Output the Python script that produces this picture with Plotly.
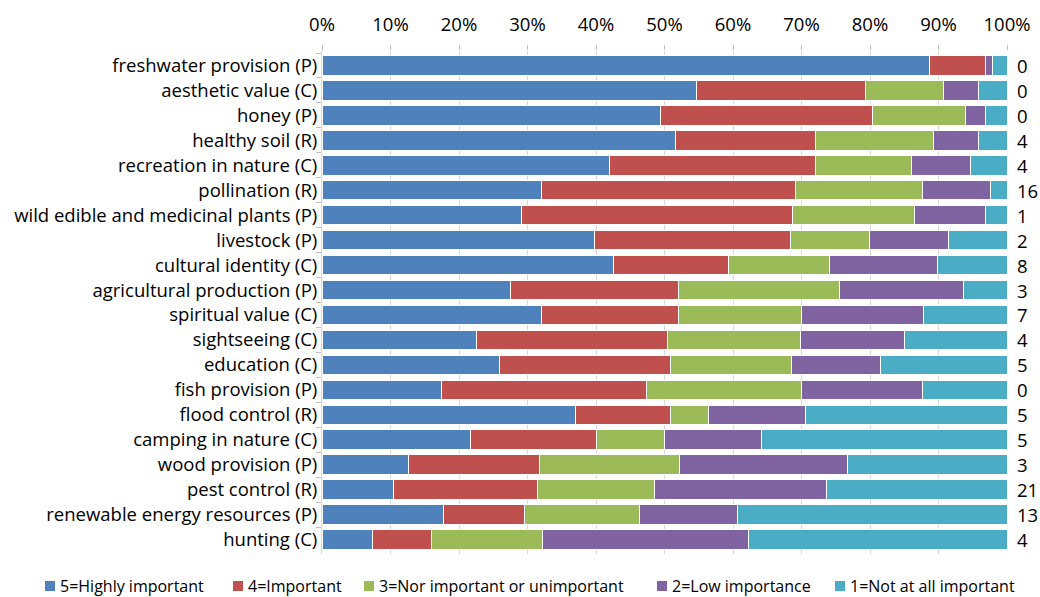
import plotly.graph_objects as go

categories = [
    "freshwater provision (P)", "aesthetic value (C)", "honey (P)", "healthy soil (R)",
    "recreation in nature (C)", "pollination (R)", "wild edible and medicinal plants (P)",
    "livestock (P)", "cultural identity (C)", "agricultural production (P)",
    "spiritual value (C)", "sightseeing (C)", "education (C)", "fish provision (P)",
    "flood control (R)", "camping in nature (C)", "wood provision (P)", "pest control (R)",
    "renewable energy resources (P)", "hunting (C)",
]

highly_important = [88.7, 54.6, 49.4, 51.6, 41.9, 32.0, 29.1, 39.8, 42.6, 27.5,
                    32.1, 22.6, 25.9, 17.5, 37.0, 21.7, 12.6, 10.4, 17.8, 7.3]
important = [8.2, 24.7, 30.9, 20.5, 30.2, 37.1, 39.6, 28.6, 16.7, 24.6,
             20.0, 27.9, 25.0, 29.8, 13.9, 18.3, 19.2, 21.1, 11.8, 8.7]
neutral = [0.0, 11.5, 13.6, 17.2, 13.9, 18.5, 17.8, 11.5, 14.8, 23.4,
           17.9, 19.4, 17.6, 22.7, 5.5, 10.0, 20.4, 17.1, 16.8, 16.2]
low_importance = [1.0, 5.1, 3.0, 6.5, 8.6, 10.0, 10.4, 11.6, 15.8, 18.1,
                  17.8, 15.1, 13.0, 17.6, 14.2, 14.2, 24.5, 25.0, 14.2, 30.1]
not_important = [2.1, 4.1, 3.1, 4.2, 5.4, 2.4, 3.1, 8.5, 10.1, 6.4,
                 12.2, 15.0, 18.5, 12.4, 29.4, 35.8, 23.3, 26.4, 39.4, 37.7]
no_answer = [0, 0, 0, 4, 4, 16, 1, 2, 8, 3, 7, 4, 5, 0, 5, 5, 3, 21, 13, 4]

tick_values = [0, 10, 20, 30, 40, 50, 60, 70, 80, 90, 100]
tick_labels = ["0%", "10%", "20%", "30%", "40%", "50%", "60%", "70%", "80%", "90%", "100%"]

series_names = ["5=Highly important", "4=Important", "3=Nor important or unimportant",
                "2=Low importance", "1=Not at all important"]
series_values = [highly_important, important, neutral, low_importance, not_important]
series_colors = ["#4F81BD", "#C0504D", "#9BBB59", "#8064A2", "#4BACC6"]

FONT = "Open Sans, sans-serif"
TXT = 18.5
LEG_TXT = 16

# layout geometry (pixels in the 1040x597 canvas)
W, H = 1040, 597
ML, MR, MT, MB = 322, 33, 51, 43
PW, PH = W - ML - MR, H - MT - MB

fig = go.Figure()
for name, vals, col in zip(series_names, series_values, series_colors):
    fig.add_trace(go.Bar(
        y=categories, x=vals, name=name, orientation="h",
        marker=dict(color=col, line=dict(color="white", width=1)),
        showlegend=False,
    ))

for cat, n in zip(categories, no_answer):
    fig.add_annotation(
        x=1, xref="paper", y=cat, yref="y", text=str(n), showarrow=False,
        xanchor="left", xshift=8, font=dict(family=FONT, size=TXT, color="#000000"),
    )

# custom one-row legend below the plot
legend_square_px = [45, 233, 364, 657, 835]
legend_y_px = 586
for name, col, sx in zip(series_names, series_colors, legend_square_px):
    x0 = (sx - ML) / PW
    x1 = (sx + 10 - ML) / PW
    yc = (MT + PH - legend_y_px) / PH
    hh = 5 / PH
    fig.add_shape(type="rect", xref="paper", yref="paper", x0=x0, x1=x1,
                  y0=yc - hh, y1=yc + hh, fillcolor=col, line=dict(width=0))
    fig.add_annotation(xref="paper", yref="paper", x=(sx + 13 - ML) / PW, y=yc,
                       text=name, showarrow=False, xanchor="left", yanchor="middle",
                       font=dict(family=FONT, size=LEG_TXT, color="#000000"))

fig.update_layout(
    barmode="stack",
    bargap=0.22,
    width=W, height=H,
    margin=dict(l=ML, r=MR, t=MT, b=MB, autoexpand=False),
    paper_bgcolor="white", plot_bgcolor="white",
    font=dict(family=FONT, size=TXT, color="#000000"),
    showlegend=False,
    xaxis=dict(
        side="top", range=[0, 100], tickmode="array", tickvals=tick_values,
        ticktext=tick_labels, showgrid=True, gridcolor="#D9D9D9", gridwidth=1,
        ticks="outside", ticklen=5, tickcolor="#BFBFBF", zeroline=False,
        showline=False, tickfont=dict(family=FONT, size=TXT), ticklabelstandoff=7,
    ),
    yaxis=dict(
        autorange="reversed", ticks="outside", ticklen=5, tickcolor="#BFBFBF",
        tickson="boundaries", showline=True, linecolor="#D9D9D9",
        tickfont=dict(family=FONT, size=TXT), automargin=False,
    ),
)

fig.write_html("out.html", config={"displayModeBar": False},
               post_script="document.body.style.margin='0';document.body.style.overflow='hidden';")
